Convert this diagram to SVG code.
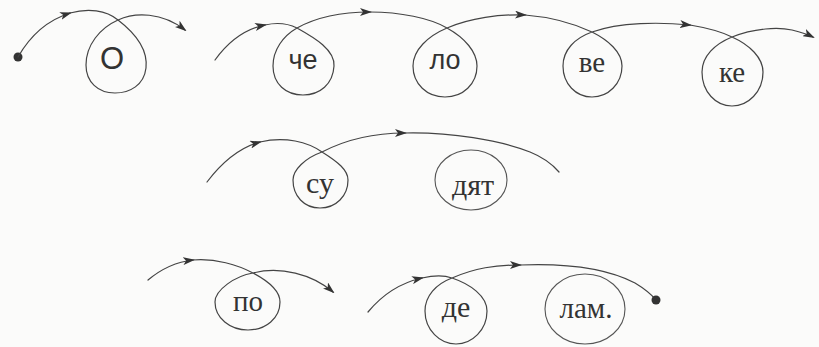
<svg xmlns="http://www.w3.org/2000/svg" width="819" height="347" viewBox="0 0 819 347">
<defs>
<marker id="arr" viewBox="0 0 12 8" refX="10" refY="4" markerWidth="12" markerHeight="8" markerUnits="userSpaceOnUse" orient="auto">
<path d="M0,0 L12,4 L0,8 L3,4 Z" fill="#333"/>
</marker>
<style>
.ln{fill:none;stroke:#444;stroke-width:1.2;stroke-linecap:round}
.ar{marker-end:url(#arr)}
.ring{fill:none;stroke:#555;stroke-width:1.1}
.sans{font-family:"Liberation Sans",Arial,sans-serif;fill:#333;text-anchor:middle}
.serif{font-family:"Liberation Serif","Times New Roman",serif;fill:#333;text-anchor:middle}
.dot{fill:#333}
</style>
</defs>
<rect width="819" height="347" fill="#fbfbfa"/>
<g id="connectors">
<!-- row 1, left -->
<circle class="dot" cx="18" cy="57" r="4.5"/>
<path class="ln ar" d="M18,57 C30,36 48,20 70,13"/>
<path class="ln ar" d="M70,13 C88,8 106,10 118,20 C135,33 148,50 146,68 C144,85 130,93 115,93 C98,93 86,82 86,65 C86,45 100,28 118,20 C135,12 162,12 185,30"/>
<!-- row 1, long chain -->
<path class="ln ar" d="M215,60 C228,42 245,29 265,25"/>
<path class="ln ar" d="M265,25 C278,22 289,24 297,28 C315,38 335,50 334,66 C333,84 320,95 303,95 C286,95 273,84 273,66 C273,50 283,36 297,28 C315,18 340,12 370,12"/>
<path class="ln ar" d="M370,12 C400,12 430,18 447,28 C465,38 477,52 477,66 C477,84 463,97 445,97 C427,97 413,84 413,66 C413,50 428,36 447,28 C470,18 500,14 525,15"/>
<path class="ln ar" d="M525,15 C550,17 575,24 592,32 C608,40 622,52 622,66 C622,84 608,97 592,97 C576,97 563,84 563,66 C563,50 575,38 592,32 C620,22 660,22 690,25"/>
<path class="ln ar" d="M690,25 C708,28 722,32 732,37 C750,45 763,58 763,72 C763,92 748,106 732,106 C716,106 702,92 702,72 C702,56 715,44 732,37 C755,28 778,27 792,30 C800,32 807,34 813,37"/>
<!-- row 2 -->
<path class="ln ar" d="M207,182 C220,165 238,148 260,142"/>
<path class="ln ar" d="M260,142 C285,136 308,142 322,152 C338,162 348,170 348,180 C348,196 336,208 320,208 C304,208 293,196 293,180 C293,170 305,158 322,152 C345,140 375,133 405,133"/>
<path class="ln" d="M405,133 C450,132 500,140 530,152 C545,158 553,165 559,172"/>
<!-- row 3, left -->
<path class="ln ar" d="M148,280 C160,270 175,262 193,260"/>
<path class="ln ar" d="M193,260 C215,258 238,265 253,273 C270,282 280,292 280,302 C280,318 266,330 248,330 C230,330 215,318 215,302 C215,290 235,276 253,273 C280,266 312,274 333,292"/>
<!-- row 3, right -->
<path class="ln ar" d="M368,312 C382,295 400,283 422,278"/>
<path class="ln ar" d="M422,278 C435,275 444,275 452,278 C470,284 487,296 487,311 C487,330 472,344 456,344 C440,344 425,330 425,311 C425,296 436,284 452,278 C475,268 495,265 520,265"/>
<path class="ln" d="M520,265 C570,263 610,270 635,283 C645,289 651,294 656,300"/>
<circle class="dot" cx="656" cy="300" r="4.5"/>
</g>
<g id="node-o"><text class="sans" x="112" y="69" font-size="31">О</text></g>
<g id="node-che"><text class="sans" x="303" y="69" font-size="27">че</text></g>
<g id="node-lo"><text class="sans" x="445" y="69" font-size="27">ло</text></g>
<g id="node-ve"><text class="serif" x="592" y="72" font-size="29">ве</text></g>
<g id="node-ke"><text class="serif" x="732" y="82" font-size="29">ке</text></g>
<g id="node-su"><text class="serif" x="320" y="193" font-size="30">су</text></g>
<g id="node-dyat"><ellipse class="ring" cx="471" cy="180" rx="36" ry="30"/><text class="serif" x="473" y="195" font-size="30">дят</text></g>
<g id="node-po"><text class="serif" x="248" y="311" font-size="29">по</text></g>
<g id="node-de"><text class="serif" x="456" y="317" font-size="30">де</text></g>
<g id="node-lam"><ellipse class="ring" cx="585" cy="309" rx="40" ry="35"/><text class="serif" x="586" y="318" font-size="29">лам.</text></g>
</svg>
